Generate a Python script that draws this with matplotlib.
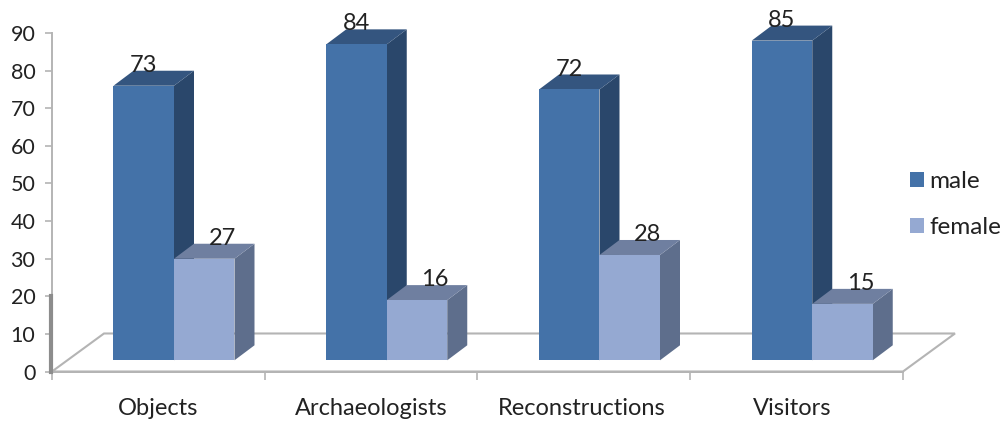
import matplotlib
matplotlib.use("Agg")
import matplotlib.pyplot as plt
from matplotlib.patches import Patch, Polygon

categories = ["Objects", "Archaeologists", "Reconstructions", "Visitors"]
male = [73, 84, 72, 85]
female = [27, 16, 28, 15]
yticks = [0, 10, 20, 30, 40, 50, 60, 70, 80, 90]

W, H = 1003, 421
# axes box in pixels
L, R, Y0, Y90 = 52, 903, 371.5, 33
BAR_LEFT, BAR_W = 61.5 / 212.75, 60.5 / 212.75
DX, DY = 20 / 212.75, 15 / 3.76   # 3d depth in data units
BASE = 11.2 / 3.76
FLOOR_DX, FLOOR_DY = 52 / 212.75, 38 / 3.76
LABEL_NUDGE = [0, 0, -0.01, -0.02]

plt.rcParams["font.family"] = ["Lato", "DejaVu Sans"]
TXT = "#222222"
GREY = "#b4b4b4"

fig = plt.figure(figsize=(W / 100, H / 100), dpi=100)
ax = fig.add_axes([L / W, 1 - Y0 / H, (R - L) / W, (Y0 - Y90) / H])
ax.set_xlim(0, 4)
ax.set_ylim(0, 90)
ax.patch.set_alpha(0)
for s in ("top", "right"):
    ax.spines[s].set_visible(False)
for s in ("left", "bottom"):
    ax.spines[s].set_color(GREY)
    ax.spines[s].set_linewidth(1.4)
ax.set_yticks(yticks)
ax.set_xticks(range(5))
ax.set_xticklabels([])
ax.tick_params(axis="y", length=5, width=1.2, color=GREY, labelsize=15.5, labelcolor=TXT, pad=7)
ax.tick_params(axis="x", length=6, width=1.2, color=GREY)
ax.plot([-0.006, -0.006], [0, 20], color="#8c8c8c", lw=3, clip_on=False, zorder=3)

for i, c in enumerate(categories):
    ax.text(i + 0.5 + LABEL_NUDGE[i], -7.0, c, ha="center", va="top", fontsize=17, color=TXT)

# floor
ax.add_patch(Polygon([(0, 0), (FLOOR_DX, FLOOR_DY), (4 + FLOOR_DX, FLOOR_DY), (4, 0)],
                     closed=True, fc="white", ec=GREY, lw=1.5, clip_on=False, zorder=1))


def bar3d(x, v, front, side, top):
    y0, y1 = BASE, BASE + v
    x1 = x + BAR_W
    ax.add_patch(Polygon([(x1, y0), (x1 + DX, y0 + DY), (x1 + DX, y1 + DY), (x1, y1)],
                         fc=side, ec="none", clip_on=False, zorder=4))
    ax.add_patch(Polygon([(x, y1), (x + DX, y1 + DY), (x1 + DX, y1 + DY), (x1, y1)],
                         fc=top, ec="none", clip_on=False, zorder=4))
    ax.add_patch(Polygon([(x, y0), (x1, y0), (x1, y1), (x, y1)],
                         fc=front, ec="none", clip_on=False, zorder=5))


for i in range(len(categories)):
    x = i + BAR_LEFT
    # female after male so the male side face stays behind it
    bar3d(x, male[i], "#4472a8", "#2a476b", "#34557f")
    bar3d(x + BAR_W, female[i], "#95a9d2", "#5e6e8c", "#6f7fa0")
    ax.text(x + BAR_W / 2, BASE + male[i] + DY - 0.3, str(male[i]), ha="center", va="baseline",
            fontsize=17, color=TXT, zorder=6, clip_on=False)
    ax.text(x + BAR_W * 1.5 + 0.085, BASE + female[i] + DY - 0.3, str(female[i]), ha="center",
            va="baseline", fontsize=17, color=TXT, zorder=6, clip_on=False)

handles = [Patch(fc="#4472a8", ec="none", label="male"), Patch(fc="#95a9d2", ec="none", label="female")]
fig.legend(handles=handles, loc="center left", bbox_to_anchor=(910 / W, 1 - 204.5 / H), frameon=False,
           fontsize=17.5, labelcolor=TXT, handlelength=0.58, handleheight=0.58, handletextpad=0.2,
           labelspacing=1.0, borderaxespad=0, borderpad=0)

fig.savefig("out.png", dpi=100)
